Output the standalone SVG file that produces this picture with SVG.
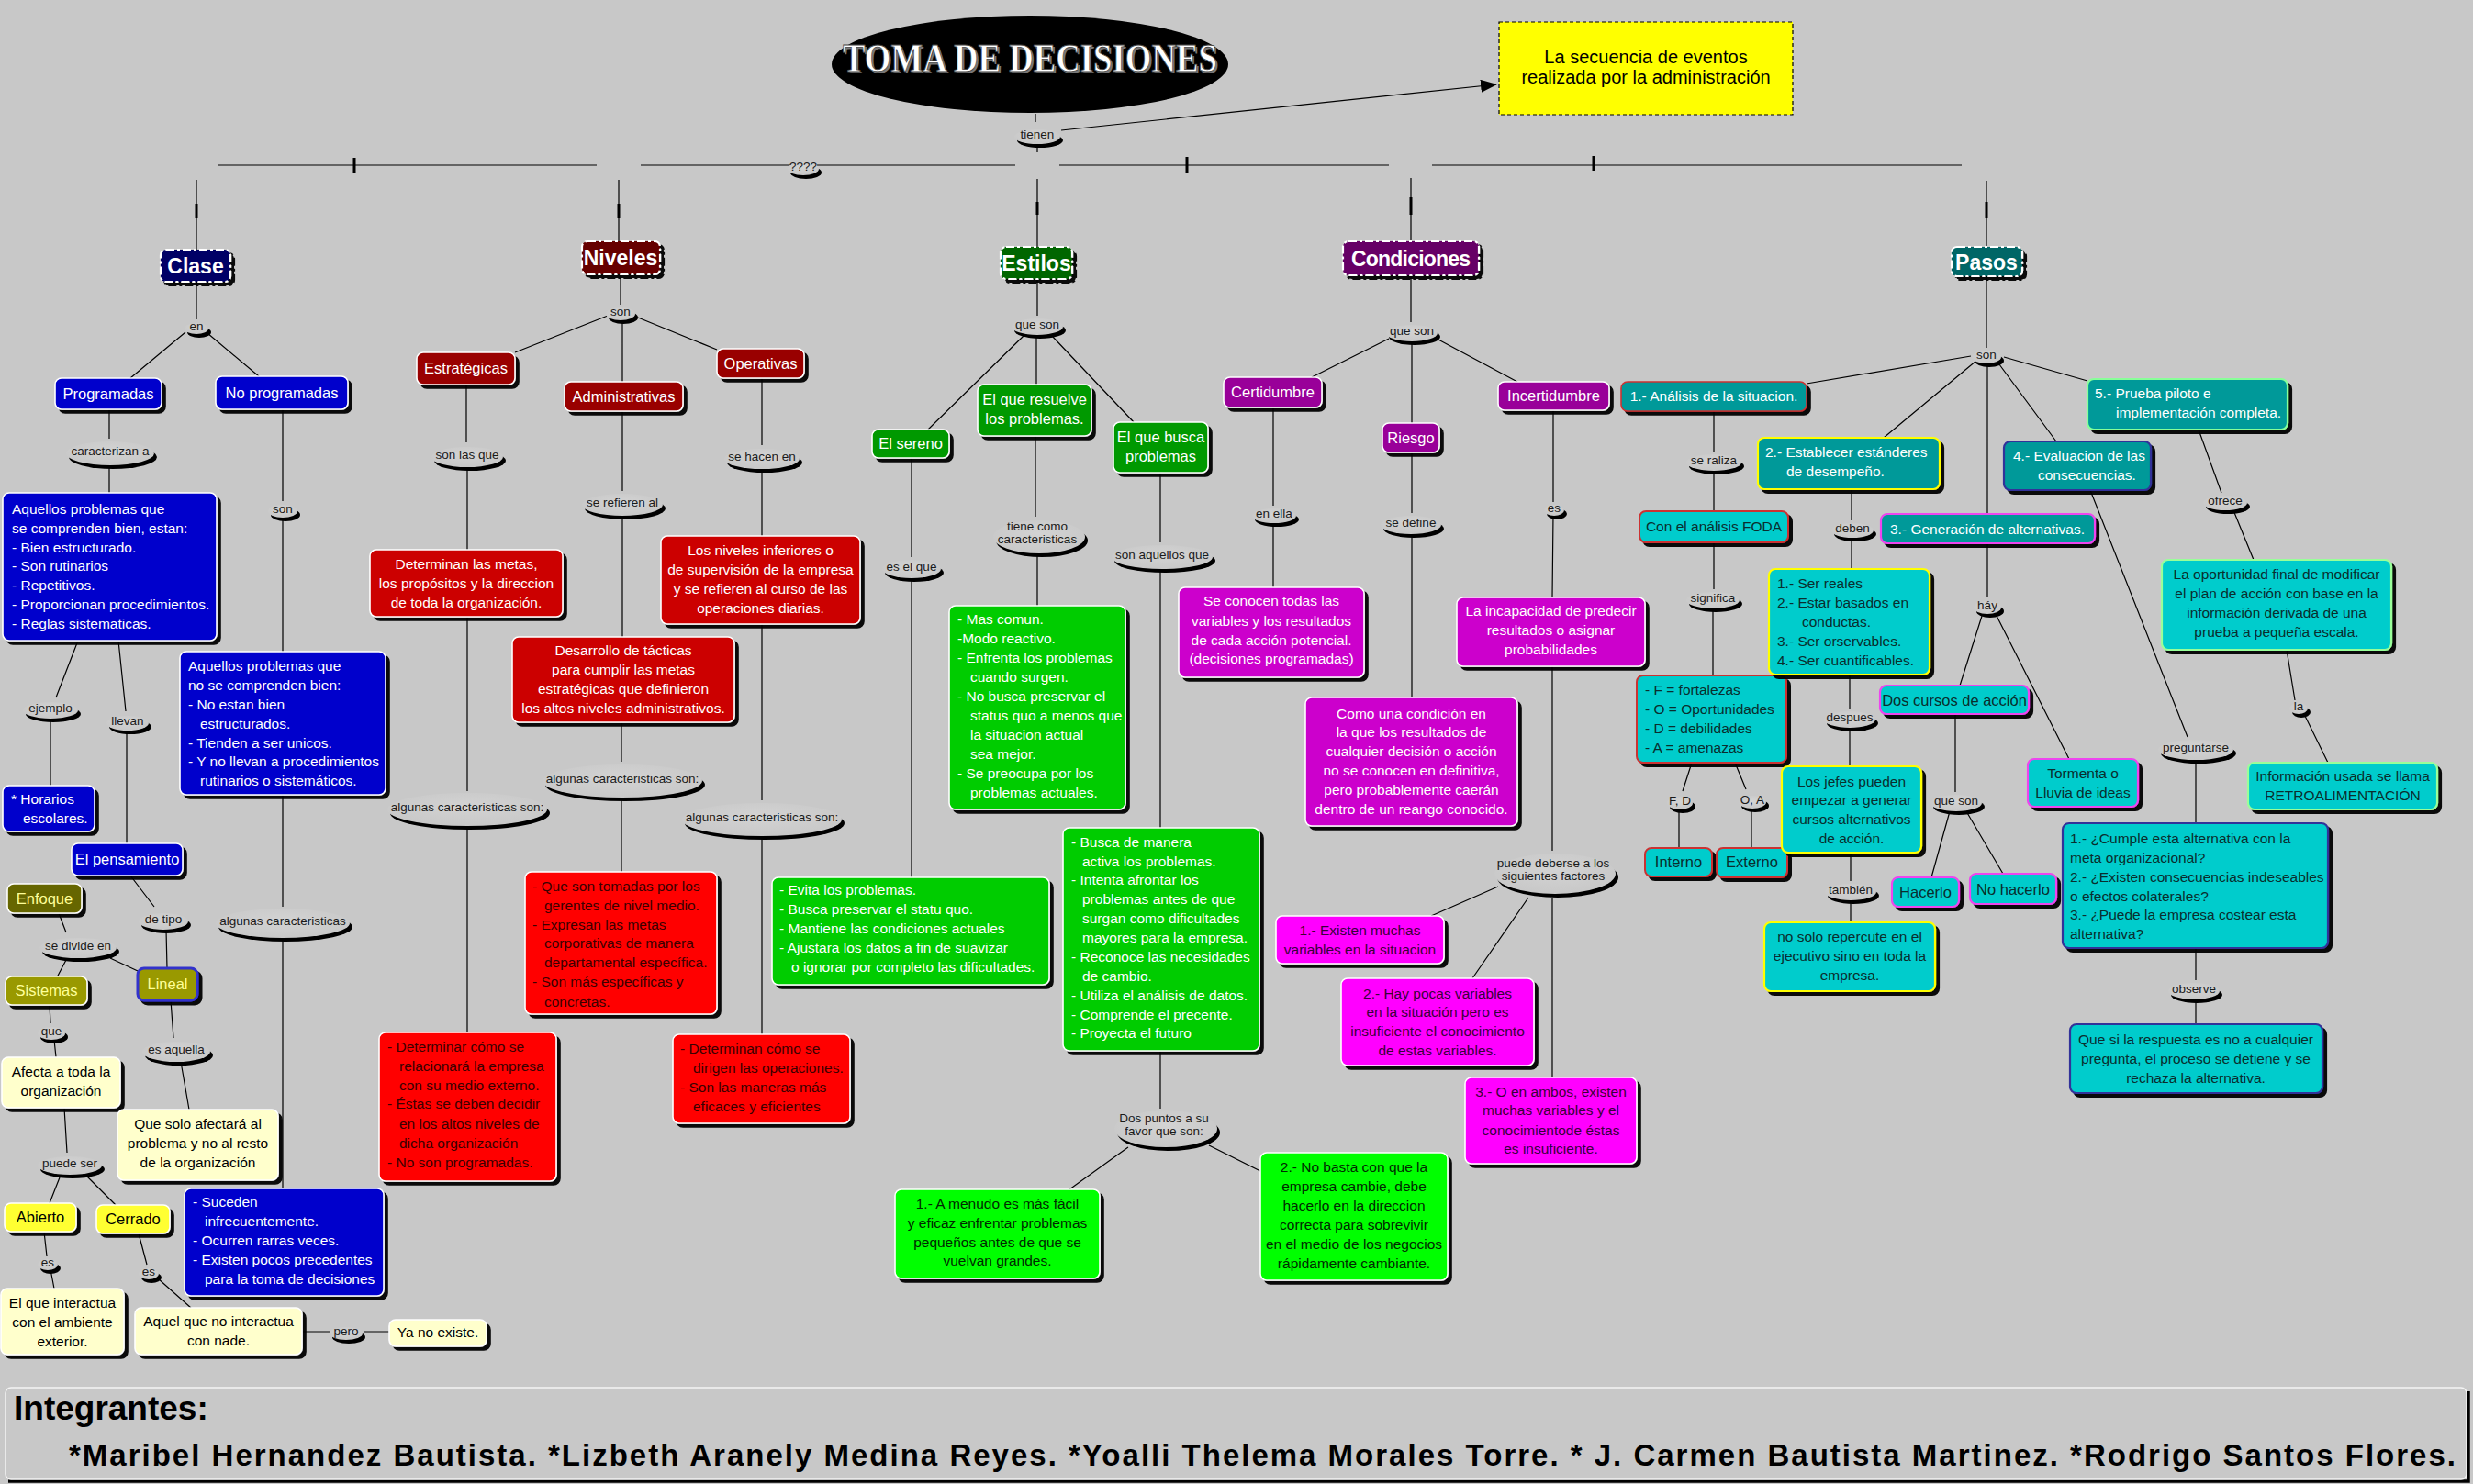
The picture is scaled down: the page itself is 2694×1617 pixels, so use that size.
<svg xmlns="http://www.w3.org/2000/svg" width="2694" height="1617" viewBox="0 0 2694 1617">
<defs>
<style>
.ln{stroke:#000;stroke-width:1.2;fill:none}
.tk{stroke:#000;stroke-width:3;fill:none}
.bx{stroke:#fff;stroke-width:1.6;filter:url(#sh)}
.hd{stroke:#fff;stroke-width:2.2;stroke-dasharray:9 3 3 3;filter:url(#sh)}
.t{font-family:"Liberation Sans",Arial,sans-serif;font-size:15.5px}
.tc{text-anchor:middle}
.h{font-family:"Liberation Sans",Arial,sans-serif;font-size:16.5px;text-anchor:middle}
.hb{font-family:"Liberation Sans",Arial,sans-serif;font-size:23px;font-weight:bold;fill:#fff;text-anchor:middle}
.w{fill:#fff}
.k{fill:#000}
.dr{fill:#3a0000}
.dg{fill:#002a00}
.dm{fill:#3a003a}
.dc{fill:#0a2e2e}
.py{fill:#ffff99}
.lt{font-family:"Liberation Sans",Arial,sans-serif;font-size:13.5px;fill:#1a1a1a;text-anchor:middle}
.ls{fill:#000}
.le{fill:url(#lg)}
</style>
<filter id="sh" x="-10%" y="-10%" width="130%" height="140%">
<feDropShadow dx="4" dy="4" stdDeviation="0.7" flood-color="#000" flood-opacity="0.95"/>
</filter>
<radialGradient id="lg" cx="50%" cy="40%" r="60%">
<stop offset="0" stop-color="#d3d3d3"/>
<stop offset="1" stop-color="#c8c8c8"/>
</radialGradient>
<marker id="arr" markerUnits="userSpaceOnUse" markerWidth="18" markerHeight="14" refX="17" refY="7" orient="auto">
<path d="M0,0 L18,7 L0,14 z" fill="#000"/>
</marker>
</defs>
<rect width="2694" height="1617" fill="#c8c8c8"/>

<g id="connectors">
<path class="ln" d="M1128 124 V133 M1130 160 V166 M237 180 H650 M698 180 H862 M890 180 H1106 M1154 180 H1513 M1560 180 H2137 M214 196 V272 M674 196 V263 M1130 195 V269 M1537 194 V263 M2164 197 V269"/>
<path class="tk" d="M386 172 V188 M1293 171 V188 M1736 170 V186 M214 222 V238 M674 222 V238 M1130 220 V234 M1537 215 V234 M2164 220 V238"/>
<path class="ln" d="M1156 142 L1630 92" marker-end="url(#arr)"/>
<path class="ln" d="M214 307 V348 M202 362 L142 412 M226 363 L282 410 M119 446 V478 M119 509 V537 M308 446 V546 M308 563 V710 M85 698 L61 760 M55 785 V856 M129 698 L137 775 M138 799 V919 M308 866 V988 M308 1022 V1295 M142 954 L168 988 M181 1013 L182 1055 M64 995 L72 1016 M120 1044 L150 1058 M72 1046 L62 1065 M54 1095 L55 1115 M59 1133 L61 1152 M186 1090 L189 1131 M197 1157 L206 1209 M70 1207 L73 1256 M65 1283 L54 1311 M95 1282 L126 1313 M48 1342 L51 1369 M55 1383 L59 1404 M151 1344 L160 1378 M172 1393 L208 1425 M329 1451 H360 M396 1451 H424"/>
<path class="ln" d="M676 299 V332 M662 344 L561 384 M678 348 V416 M695 346 L781 381 M508 419 V482 M509 508 V599 M509 672 V862 M509 899 V1125 M678 448 V535 M678 560 V694 M677 787 V830 M677 868 V950 M830 412 V485 M830 510 V584 M830 680 V872 M830 910 V1127"/>
<path class="ln" d="M1130 304 V344 M1115 366 L1011 468 M1129 365 V419 M1146 366 L1235 460 M993 499 V607 M993 630 V956 M1128 475 V563 M1130 604 V660 M1264 515 V591 M1264 622 V902 M1264 1145 V1208 M1229 1250 L1165 1296 M1317 1248 L1373 1276"/>
<path class="ln" d="M1537 300 V351 M1513 369 L1429 411 M1538 372 V461 M1565 369 L1653 416 M1387 444 V551 M1387 570 V640 M1538 493 V559 M1538 582 V760 M1692 447 V547 M1692 561 L1691 651 M1691 726 V927 M1632 966 L1559 998 M1665 978 L1604 1066 M1691 978 V1174"/>
<path class="ln" d="M2164 301 V379 M2147 388 L1968 418 M2153 393 L2052 477 M2165 394 V560 M2175 393 L2240 481 M2183 389 L2274 415 M1867 448 V492 M1867 513 V557 M1867 591 V642 M1866 663 V736 M1843 831 L1833 862 M1829 882 V924 M1890 831 L1902 860 M1908 881 V924 M2017 533 V567 M2017 586 V620 M2015 735 V772 M2015 793 V835 M2016 929 V960 M2016 981 V1005 M2165 592 V651 M2160 668 L2135 747 M2173 667 L2254 827 M2130 778 V863 M2124 884 L2104 956 M2142 884 L2182 952 M2395 468 L2420 537 M2433 556 L2455 610 M2491 708 L2500 763 M2509 776 L2536 831 M2277 534 L2383 803 M2392 828 V897 M2392 1033 V1068 M2392 1090 V1116"/>
</g>

<g id="title">
<ellipse cx="1122" cy="70" rx="216" ry="53" fill="#000"/>
<text x="1124" y="80" font-family="'Liberation Serif',serif" font-size="44" font-weight="bold" text-anchor="middle" fill="#777" textLength="408" lengthAdjust="spacingAndGlyphs">TOMA DE DECISIONES</text>
<text x="1122" y="78" font-family="'Liberation Serif',serif" font-size="44" font-weight="bold" text-anchor="middle" fill="#fff" stroke="#444" stroke-width="0.8" textLength="408" lengthAdjust="spacingAndGlyphs">TOMA DE DECISIONES</text>
</g>

<g id="n-secuencia">
<rect x="1633" y="24" width="320" height="101" fill="#ffff00" stroke="#000" stroke-width="1.2" stroke-dasharray="4 3"/>
<text font-family="'Liberation Sans',Arial,sans-serif" font-size="20" text-anchor="middle" fill="#000"><tspan x="1793" y="69">La secuencia de eventos</tspan><tspan x="1793" y="91">realizada por la administración</tspan></text>
</g>

<g id="l-tienen"><ellipse class="ls" cx="1133" cy="153" rx="25" ry="8"/><ellipse class="le" cx="1130" cy="149" rx="25" ry="8"/><text class="lt" x="1130" y="150.5">tienen</text></g>
<g id="l-q"><ellipse class="ls" cx="878" cy="188" rx="17" ry="7"/><ellipse class="le" cx="875" cy="184" rx="17" ry="7"/><text class="lt" x="875" y="185.5">????</text></g>
<g id="l-en"><ellipse class="ls" cx="217" cy="362" rx="13" ry="6"/><ellipse class="le" cx="214" cy="358" rx="13" ry="6"/><text class="lt" x="214" y="359.5">en</text></g>
<g id="l-caracterizan"><ellipse class="ls" cx="123" cy="498" rx="48" ry="13"/><ellipse class="le" cx="120" cy="494" rx="48" ry="13"/><text class="lt" x="120" y="495.5">caracterizan a</text></g>
<g id="l-son1"><ellipse class="ls" cx="311" cy="561" rx="16" ry="7"/><ellipse class="le" cx="308" cy="557" rx="16" ry="7"/><text class="lt" x="308" y="558.5">son</text></g>
<g id="l-ejemplo"><ellipse class="ls" cx="58" cy="778" rx="30" ry="9"/><ellipse class="le" cx="55" cy="774" rx="30" ry="9"/><text class="lt" x="55" y="775.5">ejemplo</text></g>
<g id="l-llevan"><ellipse class="ls" cx="142" cy="792" rx="23" ry="8"/><ellipse class="le" cx="139" cy="788" rx="23" ry="8"/><text class="lt" x="139" y="789.5">llevan</text></g>
<g id="l-algunas1"><ellipse class="ls" cx="311" cy="1010" rx="73" ry="16"/><ellipse class="le" cx="308" cy="1006" rx="73" ry="16"/><text class="lt" x="308" y="1007.5">algunas caracteristicas</text></g>
<g id="l-detipo"><ellipse class="ls" cx="181" cy="1008" rx="27" ry="9"/><ellipse class="le" cx="178" cy="1004" rx="27" ry="9"/><text class="lt" x="178" y="1005.5">de tipo</text></g>
<g id="l-sedivide"><ellipse class="ls" cx="88" cy="1037" rx="42" ry="11"/><ellipse class="le" cx="85" cy="1033" rx="42" ry="11"/><text class="lt" x="85" y="1034.5">se divide en</text></g>
<g id="l-que1"><ellipse class="ls" cx="59" cy="1130" rx="15" ry="7"/><ellipse class="le" cx="56" cy="1126" rx="15" ry="7"/><text class="lt" x="56" y="1127.5">que</text></g>
<g id="l-esaquella"><ellipse class="ls" cx="195" cy="1150" rx="37" ry="11"/><ellipse class="le" cx="192" cy="1146" rx="37" ry="11"/><text class="lt" x="192" y="1147.5">es aquella</text></g>
<g id="l-puedeser"><ellipse class="ls" cx="79" cy="1274" rx="35" ry="10"/><ellipse class="le" cx="76" cy="1270" rx="35" ry="10"/><text class="lt" x="76" y="1271.5">puede ser</text></g>
<g id="l-es1"><ellipse class="ls" cx="55" cy="1382" rx="11" ry="6"/><ellipse class="le" cx="52" cy="1378" rx="11" ry="6"/><text class="lt" x="52" y="1379.5">es</text></g>
<g id="l-es2"><ellipse class="ls" cx="165" cy="1392" rx="11" ry="6"/><ellipse class="le" cx="162" cy="1388" rx="11" ry="6"/><text class="lt" x="162" y="1389.5">es</text></g>
<g id="l-pero"><ellipse class="ls" cx="380" cy="1457" rx="18" ry="7"/><ellipse class="le" cx="377" cy="1453" rx="18" ry="7"/><text class="lt" x="377" y="1454.5">pero</text></g>
<g id="l-son2"><ellipse class="ls" cx="679" cy="346" rx="16" ry="7"/><ellipse class="le" cx="676" cy="342" rx="16" ry="7"/><text class="lt" x="676" y="343.5">son</text></g>
<g id="l-sonlasque"><ellipse class="ls" cx="512" cy="502" rx="39" ry="11"/><ellipse class="le" cx="509" cy="498" rx="39" ry="11"/><text class="lt" x="509" y="499.5">son las que</text></g>
<g id="l-algunas2"><ellipse class="ls" cx="512" cy="886" rx="87" ry="18"/><ellipse class="le" cx="509" cy="882" rx="87" ry="18"/><text class="lt" x="509" y="883.5">algunas caracteristicas son:</text></g>
<g id="l-serefieren"><ellipse class="ls" cx="681" cy="554" rx="44" ry="12"/><ellipse class="le" cx="678" cy="550" rx="44" ry="12"/><text class="lt" x="678" y="551.5">se refieren al</text></g>
<g id="l-algunas3"><ellipse class="ls" cx="681" cy="855" rx="87" ry="18"/><ellipse class="le" cx="678" cy="851" rx="87" ry="18"/><text class="lt" x="678" y="852.5">algunas caracteristicas son:</text></g>
<g id="l-sehacen"><ellipse class="ls" cx="833" cy="504" rx="41" ry="11"/><ellipse class="le" cx="830" cy="500" rx="41" ry="11"/><text class="lt" x="830" y="501.5">se hacen en</text></g>
<g id="l-algunas4"><ellipse class="ls" cx="833" cy="897" rx="87" ry="18"/><ellipse class="le" cx="830" cy="893" rx="87" ry="18"/><text class="lt" x="830" y="894.5">algunas caracteristicas son:</text></g>
<g id="l-queson1"><ellipse class="ls" cx="1133" cy="360" rx="28" ry="9"/><ellipse class="le" cx="1130" cy="356" rx="28" ry="9"/><text class="lt" x="1130" y="357.5">que son</text></g>
<g id="l-eselque"><ellipse class="ls" cx="996" cy="624" rx="32" ry="10"/><ellipse class="le" cx="993" cy="620" rx="32" ry="10"/><text class="lt" x="993" y="621.5">es el que</text></g>
<g id="l-tienecomo"><ellipse class="ls" cx="1135" cy="589" rx="50" ry="18"/><ellipse class="le" cx="1132" cy="585" rx="50" ry="18"/><text class="lt"><tspan x="1130" y="577.5">tiene como</tspan><tspan x="1130" y="591.5">caracteristicas</tspan></text></g>
<g id="l-sonaquellos"><ellipse class="ls" cx="1269" cy="611" rx="55" ry="13"/><ellipse class="le" cx="1266" cy="607" rx="55" ry="13"/><text class="lt" x="1266" y="608.5">son aquellos que</text></g>
<g id="l-dospuntos"><ellipse class="ls" cx="1273" cy="1234" rx="56" ry="20"/><ellipse class="le" cx="1270" cy="1230" rx="56" ry="20"/><text class="lt"><tspan x="1268" y="1222.5">Dos puntos a su</tspan><tspan x="1268" y="1236.5">favor que son:</tspan></text></g>
<g id="l-queson2"><ellipse class="ls" cx="1541" cy="367" rx="28" ry="9"/><ellipse class="le" cx="1538" cy="363" rx="28" ry="9"/><text class="lt" x="1538" y="364.5">que son</text></g>
<g id="l-enella"><ellipse class="ls" cx="1391" cy="566" rx="24" ry="8"/><ellipse class="le" cx="1388" cy="562" rx="24" ry="8"/><text class="lt" x="1388" y="563.5">en ella</text></g>
<g id="l-sedefine"><ellipse class="ls" cx="1540" cy="576" rx="33" ry="10"/><ellipse class="le" cx="1537" cy="572" rx="33" ry="10"/><text class="lt" x="1537" y="573.5">se define</text></g>
<g id="l-es3"><ellipse class="ls" cx="1696" cy="560" rx="11" ry="6"/><ellipse class="le" cx="1693" cy="556" rx="11" ry="6"/><text class="lt" x="1693" y="557.5">es</text></g>
<g id="l-puededeberse"><ellipse class="ls" cx="1697" cy="956" rx="66" ry="22"/><ellipse class="le" cx="1694" cy="952" rx="66" ry="22"/><text class="lt"><tspan x="1692" y="944.5">puede deberse a los</tspan><tspan x="1692" y="958.5">siguientes factores</tspan></text></g>
<g id="l-son3"><ellipse class="ls" cx="2167" cy="393" rx="16" ry="7"/><ellipse class="le" cx="2164" cy="389" rx="16" ry="7"/><text class="lt" x="2164" y="390.5">son</text></g>
<g id="l-seraliza"><ellipse class="ls" cx="1870" cy="508" rx="30" ry="9"/><ellipse class="le" cx="1867" cy="504" rx="30" ry="9"/><text class="lt" x="1867" y="505.5">se raliza</text></g>
<g id="l-significa"><ellipse class="ls" cx="1869" cy="658" rx="29" ry="9"/><ellipse class="le" cx="1866" cy="654" rx="29" ry="9"/><text class="lt" x="1866" y="655.5">significa</text></g>
<g id="l-fd"><ellipse class="ls" cx="1833" cy="879" rx="14" ry="7"/><ellipse class="le" cx="1830" cy="875" rx="14" ry="7"/><text class="lt" x="1830" y="876.5">F, D</text></g>
<g id="l-oa"><ellipse class="ls" cx="1912" cy="878" rx="15" ry="7"/><ellipse class="le" cx="1909" cy="874" rx="15" ry="7"/><text class="lt" x="1909" y="875.5">O, A</text></g>
<g id="l-deben"><ellipse class="ls" cx="2021" cy="582" rx="23" ry="8"/><ellipse class="le" cx="2018" cy="578" rx="23" ry="8"/><text class="lt" x="2018" y="579.5">deben</text></g>
<g id="l-despues"><ellipse class="ls" cx="2018" cy="788" rx="28" ry="9"/><ellipse class="le" cx="2015" cy="784" rx="28" ry="9"/><text class="lt" x="2015" y="785.5">despues</text></g>
<g id="l-tambien"><ellipse class="ls" cx="2019" cy="976" rx="28" ry="9"/><ellipse class="le" cx="2016" cy="972" rx="28" ry="9"/><text class="lt" x="2016" y="973.5">también</text></g>
<g id="l-hay"><ellipse class="ls" cx="2168" cy="666" rx="15" ry="7"/><ellipse class="le" cx="2165" cy="662" rx="15" ry="7"/><text class="lt" x="2165" y="663.5">háy</text></g>
<g id="l-queson3"><ellipse class="ls" cx="2134" cy="879" rx="28" ry="9"/><ellipse class="le" cx="2131" cy="875" rx="28" ry="9"/><text class="lt" x="2131" y="876.5">que son</text></g>
<g id="l-ofrece"><ellipse class="ls" cx="2427" cy="552" rx="24" ry="8"/><ellipse class="le" cx="2424" cy="548" rx="24" ry="8"/><text class="lt" x="2424" y="549.5">ofrece</text></g>
<g id="l-la"><ellipse class="ls" cx="2507" cy="776" rx="10" ry="6"/><ellipse class="le" cx="2504" cy="772" rx="10" ry="6"/><text class="lt" x="2504" y="773.5">la</text></g>
<g id="l-preguntarse"><ellipse class="ls" cx="2395" cy="821" rx="41" ry="11"/><ellipse class="le" cx="2392" cy="817" rx="41" ry="11"/><text class="lt" x="2392" y="818.5">preguntarse</text></g>
<g id="l-observe"><ellipse class="ls" cx="2393" cy="1084" rx="28" ry="9"/><ellipse class="le" cx="2390" cy="1080" rx="28" ry="9"/><text class="lt" x="2390" y="1081.5">observe</text></g>

<g id="n-clase"><rect class="hd" x="175" y="272" width="76" height="35" rx="6" fill="#000066"/><text class="hb" x="213" y="298">Clase</text></g>
<g id="n-niveles"><rect class="hd" x="634" y="263" width="85" height="36" rx="6" fill="#660000"/><text class="hb" x="676" y="289">Niveles</text></g>
<g id="n-estilos"><rect class="hd" x="1090" y="269" width="78" height="35" rx="6" fill="#006600"/><text class="hb" x="1129" y="295">Estilos</text></g>
<g id="n-condiciones"><rect class="hd" x="1463" y="263" width="148" height="37" rx="6" fill="#660066"/><text class="hb" x="1537" y="290" textLength="130">Condiciones</text></g>
<g id="n-pasos"><rect class="hd" x="2126" y="269" width="77" height="32" rx="6" fill="#006666"/><text class="hb" x="2164" y="294">Pasos</text></g>

<g id="n-programadas"><rect class="bx" x="60" y="412" width="116" height="34" rx="7" fill="#0000cc"/><text class="h w" x="118" y="435">Programadas</text></g>
<g id="n-noprogramadas"><rect class="bx" x="235" y="410" width="144" height="36" rx="7" fill="#0000cc"/><text class="h w" x="307" y="434">No programadas</text></g>
<g id="n-bien"><rect class="bx" x="3" y="537" width="233" height="161" rx="7" fill="#0000cc"/><text class="t w"><tspan x="13" y="560">Aquellos problemas que</tspan><tspan x="13" y="580.8">se comprenden bien, estan:</tspan><tspan x="13" y="601.6">- Bien estructurado.</tspan><tspan x="13" y="622.4">- Son rutinarios</tspan><tspan x="13" y="643.2">- Repetitivos.</tspan><tspan x="13" y="664">- Proporcionan procedimientos.</tspan><tspan x="13" y="684.8">- Reglas sistematicas.</tspan></text></g>
<g id="n-nobien"><rect class="bx" x="196" y="710" width="224" height="156" rx="7" fill="#0000cc"/><text class="t w"><tspan x="205" y="731">Aquellos problemas que</tspan><tspan x="205" y="752">no se comprenden bien:</tspan><tspan x="205" y="773">- No estan bien</tspan><tspan x="218" y="794">estructurados.</tspan><tspan x="205" y="815">- Tienden a ser unicos.</tspan><tspan x="205" y="835">- Y no llevan a procedimientos</tspan><tspan x="218" y="856">rutinarios o sistemáticos.</tspan></text></g>
<g id="n-horarios"><rect class="bx" x="3" y="856" width="100" height="50" rx="7" fill="#0000cc"/><text class="t w"><tspan x="12" y="876">* Horarios</tspan><tspan x="25" y="897">escolares.</tspan></text></g>
<g id="n-pensamiento"><rect class="bx" x="78" y="919" width="121" height="35" rx="7" fill="#0000cc"/><text class="h w" x="138.5" y="942">El pensamiento</text></g>
<g id="n-enfoque"><rect class="bx" x="8" y="963" width="81" height="32" rx="7" fill="#666600"/><text class="h py" x="48.5" y="985" font-size="17">Enfoque</text></g>
<g id="n-sistemas"><rect class="bx" x="6" y="1064" width="89" height="31" rx="7" fill="#999900"/><text class="h py" x="50.5" y="1085">Sistemas</text></g>
<g id="n-lineal"><rect x="150" y="1055" width="65" height="35" rx="7" fill="#999900" stroke="#3333cc" stroke-width="3" filter="url(#sh)"/><text class="h py" x="182.5" y="1078">Lineal</text></g>
<g id="n-afecta"><rect class="bx" x="2" y="1152" width="129" height="55" rx="7" fill="#ffffcc"/><text class="t tc k"><tspan x="66.5" y="1173">Afecta a toda la</tspan><tspan x="66.5" y="1194">organización</tspan></text></g>
<g id="n-quesolo"><rect class="bx" x="128" y="1209" width="175" height="77" rx="7" fill="#ffffcc"/><text class="t tc k"><tspan x="215.5" y="1230">Que solo afectará al</tspan><tspan x="215.5" y="1251">problema y no al resto</tspan><tspan x="215.5" y="1272">de la organización</tspan></text></g>
<g id="n-abierto"><rect class="bx" x="5" y="1311" width="78" height="31" rx="7" fill="#ffff33"/><text class="h k" x="44" y="1332">Abierto</text></g>
<g id="n-cerrado"><rect class="bx" x="105" y="1313" width="80" height="31" rx="7" fill="#ffff33"/><text class="h k" x="145" y="1334">Cerrado</text></g>
<g id="n-interactua"><rect class="bx" x="1" y="1404" width="134" height="72" rx="7" fill="#ffffcc"/><text class="t tc k"><tspan x="68" y="1425">El que interactua</tspan><tspan x="68" y="1446">con el ambiente</tspan><tspan x="68" y="1467">exterior.</tspan></text></g>
<g id="n-aquel"><rect class="bx" x="147" y="1425" width="182" height="51" rx="7" fill="#ffffcc"/><text class="t tc k"><tspan x="238" y="1445">Aquel que no interactua</tspan><tspan x="238" y="1466">con nade.</tspan></text></g>
<g id="n-yanoexiste"><rect class="bx" x="424" y="1438" width="106" height="29" rx="7" fill="#ffffcc"/><text class="t tc k" x="477" y="1457">Ya no existe.</text></g>
<g id="n-suceden"><rect class="bx" x="201" y="1295" width="217" height="117" rx="7" fill="#0000cc"/><text class="t w"><tspan x="210" y="1315">- Suceden</tspan><tspan x="223" y="1336">infrecuentemente.</tspan><tspan x="210" y="1357">- Ocurren rarras veces.</tspan><tspan x="210" y="1378">- Existen pocos precedentes</tspan><tspan x="223" y="1399">para la toma de decisiones</tspan></text></g>

<g id="n-estrategicas"><rect class="bx" x="454" y="384" width="107" height="35" rx="7" fill="#990000"/><text class="h w" x="507.5" y="407">Estratégicas</text></g>
<g id="n-administrativas"><rect class="bx" x="615" y="416" width="129" height="32" rx="7" fill="#990000"/><text class="h w" x="679.5" y="438">Administrativas</text></g>
<g id="n-operativas"><rect class="bx" x="781" y="380" width="95" height="32" rx="7" fill="#990000"/><text class="h w" x="828.5" y="402">Operativas</text></g>
<g id="n-metas"><rect class="bx" x="403" y="599" width="210" height="73" rx="7" fill="#cc0000"/><text class="t tc w"><tspan x="508" y="620">Determinan las metas,</tspan><tspan x="508" y="641">los propósitos y la direccion</tspan><tspan x="508" y="662">de toda la organización.</tspan></text></g>
<g id="n-tacticas"><rect class="bx" x="558" y="694" width="242" height="93" rx="7" fill="#cc0000"/><text class="t tc w"><tspan x="679" y="714">Desarrollo de tácticas</tspan><tspan x="679" y="735">para cumplir las metas</tspan><tspan x="679" y="756">estratégicas que definieron</tspan><tspan x="679" y="777">los altos niveles administrativos.</tspan></text></g>
<g id="n-inferiores"><rect class="bx" x="720" y="584" width="217" height="96" rx="7" fill="#cc0000"/><text class="t tc w"><tspan x="828.5" y="605">Los niveles inferiores o</tspan><tspan x="828.5" y="626">de supervisión de la empresa</tspan><tspan x="828.5" y="647">y se refieren al curso de las</tspan><tspan x="828.5" y="668">operaciones diarias.</tspan></text></g>
<g id="n-determinar"><rect class="bx" x="413" y="1125" width="193" height="162" rx="7" fill="#ff0000"/><text class="t dr"><tspan x="422" y="1146">- Determinar cómo se</tspan><tspan x="435" y="1167">relacionará la empresa</tspan><tspan x="435" y="1188">con su medio externo.</tspan><tspan x="422" y="1208">- Éstas se deben decidir</tspan><tspan x="435" y="1230">en los altos niveles de</tspan><tspan x="435" y="1251">dicha organización</tspan><tspan x="422" y="1272">- No son programadas.</tspan></text></g>
<g id="n-tomadas"><rect class="bx" x="572" y="950" width="209" height="155" rx="7" fill="#ff0000"/><text class="t dr"><tspan x="580" y="971">- Que son tomadas por los</tspan><tspan x="593" y="992">gerentes de nivel medio.</tspan><tspan x="580" y="1013">- Expresan las metas</tspan><tspan x="593" y="1033">corporativas de manera</tspan><tspan x="593" y="1054">departamental específica.</tspan><tspan x="580" y="1075">- Son más específicas y</tspan><tspan x="593" y="1097">concretas.</tspan></text></g>
<g id="n-dirigen"><rect class="bx" x="733" y="1127" width="193" height="97" rx="7" fill="#ff0000"/><text class="t dr"><tspan x="741" y="1148">- Determinan cómo se</tspan><tspan x="755" y="1169">dirigen las operaciones.</tspan><tspan x="741" y="1190">- Son las maneras más</tspan><tspan x="755" y="1211">eficaces y eficientes</tspan></text></g>

<g id="n-sereno"><rect class="bx" x="950" y="468" width="84" height="31" rx="7" fill="#009900"/><text class="h w" x="992" y="489">El sereno</text></g>
<g id="n-resuelve"><rect class="bx" x="1065" y="419" width="124" height="56" rx="7" fill="#009900"/><text class="h w"><tspan x="1127" y="441">El que resuelve</tspan><tspan x="1127" y="462">los problemas.</tspan></text></g>
<g id="n-busca"><rect class="bx" x="1213" y="460" width="103" height="55" rx="7" fill="#009900"/><text class="h w"><tspan x="1264.5" y="482">El que busca</tspan><tspan x="1264.5" y="503">problemas</tspan></text></g>
<g id="n-evita"><rect class="bx" x="841" y="956" width="302" height="117" rx="7" fill="#00cc00"/><text class="t w"><tspan x="849" y="975">- Evita los problemas.</tspan><tspan x="849" y="996">- Busca preservar el statu quo.</tspan><tspan x="849" y="1017">- Mantiene las condiciones actuales</tspan><tspan x="849" y="1038">- Ajustara los datos a fin de suavizar</tspan><tspan x="862" y="1059">o ignorar por completo las dificultades.</tspan></text></g>
<g id="n-mascomun"><rect class="bx" x="1034" y="660" width="192" height="222" rx="7" fill="#00cc00"/><text class="t w"><tspan x="1043" y="680">- Mas comun.</tspan><tspan x="1043" y="701">-Modo reactivo.</tspan><tspan x="1043" y="722">- Enfrenta los problemas</tspan><tspan x="1057" y="743">cuando surgen.</tspan><tspan x="1043" y="764">- No busca preservar el</tspan><tspan x="1057" y="785">status quo a menos que</tspan><tspan x="1057" y="806">la situacion actual</tspan><tspan x="1057" y="827">sea mejor.</tspan><tspan x="1043" y="848">- Se preocupa por los</tspan><tspan x="1057" y="869">problemas actuales.</tspan></text></g>
<g id="n-buscamanera"><rect class="bx" x="1158" y="902" width="214" height="243" rx="7" fill="#00cc00"/><text class="t w"><tspan x="1167" y="923">- Busca de manera</tspan><tspan x="1179" y="944">activa los problemas.</tspan><tspan x="1167" y="964">- Intenta afrontar los</tspan><tspan x="1179" y="985">problemas antes de que</tspan><tspan x="1179" y="1006">surgan como dificultades</tspan><tspan x="1179" y="1027">mayores para la empresa.</tspan><tspan x="1167" y="1048">- Reconoce las necesidades</tspan><tspan x="1179" y="1069">de cambio.</tspan><tspan x="1167" y="1090">- Utiliza el análisis de datos.</tspan><tspan x="1167" y="1111">- Comprende el precente.</tspan><tspan x="1167" y="1131">- Proyecta el futuro</tspan></text></g>
<g id="n-amenudo"><rect class="bx" x="975" y="1296" width="223" height="97" rx="7" fill="#00ff00"/><text class="t tc dg"><tspan x="1086.5" y="1317">1.- A menudo es más fácil</tspan><tspan x="1086.5" y="1338">y eficaz enfrentar problemas</tspan><tspan x="1086.5" y="1359">pequeños antes de que se</tspan><tspan x="1086.5" y="1379">vuelvan grandes.</tspan></text></g>
<g id="n-nobasta"><rect class="bx" x="1373" y="1256" width="204" height="139" rx="7" fill="#00ff00"/><text class="t tc dg"><tspan x="1475" y="1277">2.- No basta con que la</tspan><tspan x="1475" y="1298">empresa cambie, debe</tspan><tspan x="1475" y="1319">hacerlo en la direccion</tspan><tspan x="1475" y="1340">correcta para sobrevivir</tspan><tspan x="1475" y="1361">en el medio de los negocios</tspan><tspan x="1475" y="1382">rápidamente cambiante.</tspan></text></g>

<g id="n-certidumbre"><rect class="bx" x="1333" y="411" width="107" height="33" rx="7" fill="#990099"/><text class="h w" x="1386.5" y="433">Certidumbre</text></g>
<g id="n-riesgo"><rect class="bx" x="1506" y="461" width="62" height="32" rx="7" fill="#990099"/><text class="h w" x="1537" y="483">Riesgo</text></g>
<g id="n-incertidumbre"><rect class="bx" x="1632" y="416" width="121" height="31" rx="7" fill="#990099"/><text class="h w" x="1692.5" y="437">Incertidumbre</text></g>
<g id="n-seconocen"><rect class="bx" x="1284" y="640" width="202" height="98" rx="7" fill="#cc00cc"/><text class="t tc w"><tspan x="1385" y="660">Se conocen todas las</tspan><tspan x="1385" y="682">variables y los resultados</tspan><tspan x="1385" y="703">de cada acción potencial.</tspan><tspan x="1385" y="723">(decisiones programadas)</tspan></text></g>
<g id="n-comouna"><rect class="bx" x="1422" y="760" width="231" height="140" rx="7" fill="#cc00cc"/><text class="t tc w"><tspan x="1537.5" y="783">Como una condición en</tspan><tspan x="1537.5" y="803">la que los resultados de</tspan><tspan x="1537.5" y="824">cualquier decisión o acción</tspan><tspan x="1537.5" y="845">no se conocen en definitiva,</tspan><tspan x="1537.5" y="866">pero probablemente caerán</tspan><tspan x="1537.5" y="887">dentro de un reango conocido.</tspan></text></g>
<g id="n-incapacidad"><rect class="bx" x="1587" y="651" width="205" height="75" rx="7" fill="#cc00cc"/><text class="t tc w"><tspan x="1689.5" y="671">La incapacidad de predecir</tspan><tspan x="1689.5" y="692">resultados o asignar</tspan><tspan x="1689.5" y="713">probabilidades</tspan></text></g>
<g id="n-existen"><rect class="bx" x="1390" y="998" width="183" height="52" rx="7" fill="#ff00ff"/><text class="t tc dm"><tspan x="1481.5" y="1019">1.- Existen muchas</tspan><tspan x="1481.5" y="1040">variables en la situacion</tspan></text></g>
<g id="n-haypocas"><rect class="bx" x="1461" y="1066" width="210" height="95" rx="7" fill="#ff00ff"/><text class="t tc dm"><tspan x="1566" y="1088">2.- Hay pocas variables</tspan><tspan x="1566" y="1108">en la situación pero es</tspan><tspan x="1566" y="1129">insuficiente el conocimiento</tspan><tspan x="1566" y="1150">de estas variables.</tspan></text></g>
<g id="n-enambos"><rect class="bx" x="1596" y="1174" width="187" height="94" rx="7" fill="#ff00ff"/><text class="t tc dm"><tspan x="1689.5" y="1195">3.- O en ambos, existen</tspan><tspan x="1689.5" y="1215">muchas variables y el</tspan><tspan x="1689.5" y="1237">conocimientode éstas</tspan><tspan x="1689.5" y="1257">es insuficiente.</tspan></text></g>

<g id="n-analisis"><rect class="bx" x="1766" y="416" width="202" height="32" rx="7" fill="#009999" style="stroke:#cc3333"/><text class="t tc w" x="1867" y="437">1.- Análisis de la situacion.</text></g>
<g id="n-establecer"><rect class="bx" x="1915" y="477" width="198" height="56" rx="7" fill="#009999" style="stroke:#ffff00;stroke-width:2.2"/><text class="t w"><tspan x="1923" y="498">2.- Establecer estánderes</tspan><tspan x="1946" y="519">de desempeño.</tspan></text></g>
<g id="n-generacion"><rect class="bx" x="2049" y="560" width="233" height="32" rx="7" fill="#009999" style="stroke:#ee44ee;stroke-width:2.2"/><text class="t w" x="2059" y="582">3.- Generación de alternativas.</text></g>
<g id="n-evaluacion"><rect class="bx" x="2183" y="481" width="160" height="53" rx="7" fill="#009999" style="stroke:#333399;stroke-width:2.2"/><text class="t w"><tspan x="2193" y="502">4.- Evaluacion de las</tspan><tspan x="2220" y="523">consecuencias.</tspan></text></g>
<g id="n-prueba"><rect class="bx" x="2274" y="413" width="218" height="55" rx="7" fill="#009999" style="stroke:#88ff99;stroke-width:2.2"/><text class="t w"><tspan x="2282" y="434">5.- Prueba piloto e</tspan><tspan x="2305" y="455">implementación completa.</tspan></text></g>
<g id="n-foda"><rect class="bx" x="1786" y="557" width="162" height="34" rx="7" fill="#00cccc" style="stroke:#cc3333;stroke-width:2"/><text class="t tc dc" x="1867" y="579">Con el análisis FODA</text></g>
<g id="n-fortalezas"><rect class="bx" x="1783" y="736" width="163" height="95" rx="7" fill="#00cccc" style="stroke:#cc3333;stroke-width:2"/><text class="t dc"><tspan x="1792" y="757">- F = fortalezas</tspan><tspan x="1792" y="778">- O = Oportunidades</tspan><tspan x="1792" y="799">- D = debilidades</tspan><tspan x="1792" y="820">- A = amenazas</tspan></text></g>
<g id="n-interno"><rect class="bx" x="1792" y="924" width="73" height="31" rx="7" fill="#00cccc" style="stroke:#cc3333;stroke-width:2"/><text class="h dc" x="1828.5" y="945">Interno</text></g>
<g id="n-externo"><rect class="bx" x="1870" y="924" width="77" height="32" rx="7" fill="#00cccc" style="stroke:#cc3333;stroke-width:2"/><text class="h dc" x="1908.5" y="945">Externo</text></g>
<g id="n-serreales"><rect class="bx" x="1927" y="620" width="175" height="115" rx="7" fill="#00cccc" style="stroke:#ffff00;stroke-width:2.2"/><text class="t dc"><tspan x="1936" y="641">1.- Ser reales</tspan><tspan x="1936" y="662">2.- Estar basados en</tspan><tspan x="1963" y="683">conductas.</tspan><tspan x="1936" y="704">3.- Ser orservables.</tspan><tspan x="1936" y="725">4.- Ser cuantificables.</tspan></text></g>
<g id="n-jefes"><rect class="bx" x="1941" y="835" width="152" height="94" rx="7" fill="#00cccc" style="stroke:#ffff00;stroke-width:2.2"/><text class="t tc dc"><tspan x="2017" y="857">Los jefes pueden</tspan><tspan x="2017" y="877">empezar a generar</tspan><tspan x="2017" y="898">cursos alternativos</tspan><tspan x="2017" y="919">de acción.</tspan></text></g>
<g id="n-nosolo"><rect class="bx" x="1922" y="1005" width="186" height="75" rx="7" fill="#00cccc" style="stroke:#ffff00;stroke-width:2.2"/><text class="t tc dc"><tspan x="2015" y="1026">no solo repercute en el</tspan><tspan x="2015" y="1047">ejecutivo sino en toda la</tspan><tspan x="2015" y="1068">empresa.</tspan></text></g>
<g id="n-doscursos"><rect class="bx" x="2048" y="747" width="162" height="31" rx="7" fill="#00cccc" style="stroke:#ee44ee;stroke-width:2.2"/><text class="h dc" x="2129" y="769">Dos cursos de acción</text></g>
<g id="n-tormenta"><rect class="bx" x="2209" y="827" width="120" height="52" rx="7" fill="#00cccc" style="stroke:#ee44ee;stroke-width:2.2"/><text class="t tc dc"><tspan x="2269" y="848">Tormenta o</tspan><tspan x="2269" y="869">Lluvia de ideas</tspan></text></g>
<g id="n-hacerlo"><rect class="bx" x="2061" y="956" width="73" height="32" rx="7" fill="#00cccc" style="stroke:#ee44ee;stroke-width:2.2"/><text class="h dc" x="2097.5" y="978">Hacerlo</text></g>
<g id="n-nohacerlo"><rect class="bx" x="2146" y="952" width="94" height="33" rx="7" fill="#00cccc" style="stroke:#ee44ee;stroke-width:2.2"/><text class="h dc" x="2193" y="975">No hacerlo</text></g>
<g id="n-oportunidad"><rect class="bx" x="2355" y="610" width="250" height="98" rx="7" fill="#00cccc" style="stroke:#99ff99;stroke-width:2.2"/><text class="t tc dc"><tspan x="2480" y="631">La oportunidad final de modificar</tspan><tspan x="2480" y="652">el plan de acción con base en la</tspan><tspan x="2480" y="673">información derivada de una</tspan><tspan x="2480" y="694">prueba a pequeña escala.</tspan></text></g>
<g id="n-informacion"><rect class="bx" x="2449" y="831" width="206" height="51" rx="7" fill="#00cccc" style="stroke:#99ff99;stroke-width:2.2"/><text class="t tc dc"><tspan x="2552" y="851">Información usada se llama</tspan><tspan x="2552" y="872">RETROALIMENTACIÓN</tspan></text></g>
<g id="n-preguntas"><rect class="bx" x="2247" y="897" width="289" height="136" rx="7" fill="#00cccc" style="stroke:#333399;stroke-width:2.2"/><text class="t dc"><tspan x="2255" y="919">1.- ¿Cumple esta alternativa con la</tspan><tspan x="2255" y="940">meta organizacional?</tspan><tspan x="2255" y="961">2.- ¿Existen consecuencias indeseables</tspan><tspan x="2255" y="982">o efectos colaterales?</tspan><tspan x="2255" y="1002">3.- ¿Puede la empresa costear esta</tspan><tspan x="2255" y="1023">alternativa?</tspan></text></g>
<g id="n-quesi"><rect class="bx" x="2255" y="1116" width="275" height="75" rx="7" fill="#00cccc" style="stroke:#333399;stroke-width:2.2"/><text class="t tc dc"><tspan x="2392" y="1138">Que si la respuesta es no a cualquier</tspan><tspan x="2392" y="1159">pregunta, el proceso se detiene y se</tspan><tspan x="2392" y="1180">rechaza la alternativa.</tspan></text></g>

<g id="n-integrantes">
<path d="M2689 1516 V1614 H9" fill="none" stroke="#000" stroke-width="3.5"/>
<rect x="6" y="1512" width="2681" height="100" rx="6" fill="#c8c8c8" stroke="#f4f4f4" stroke-width="1.5"/>
<text x="15" y="1547" font-family="'Liberation Sans',Arial,sans-serif" font-size="37" font-weight="bold" fill="#000">Integrantes:</text>
<text x="75" y="1597" font-family="'Liberation Sans',Arial,sans-serif" font-size="33" font-weight="bold" fill="#000" textLength="2600" lengthAdjust="spacing">*Maribel Hernandez Bautista. *Lizbeth Aranely Medina Reyes. *Yoalli Thelema Morales Torre. * J. Carmen Bautista Martinez. *Rodrigo Santos Flores.</text>
</g>
</svg>
